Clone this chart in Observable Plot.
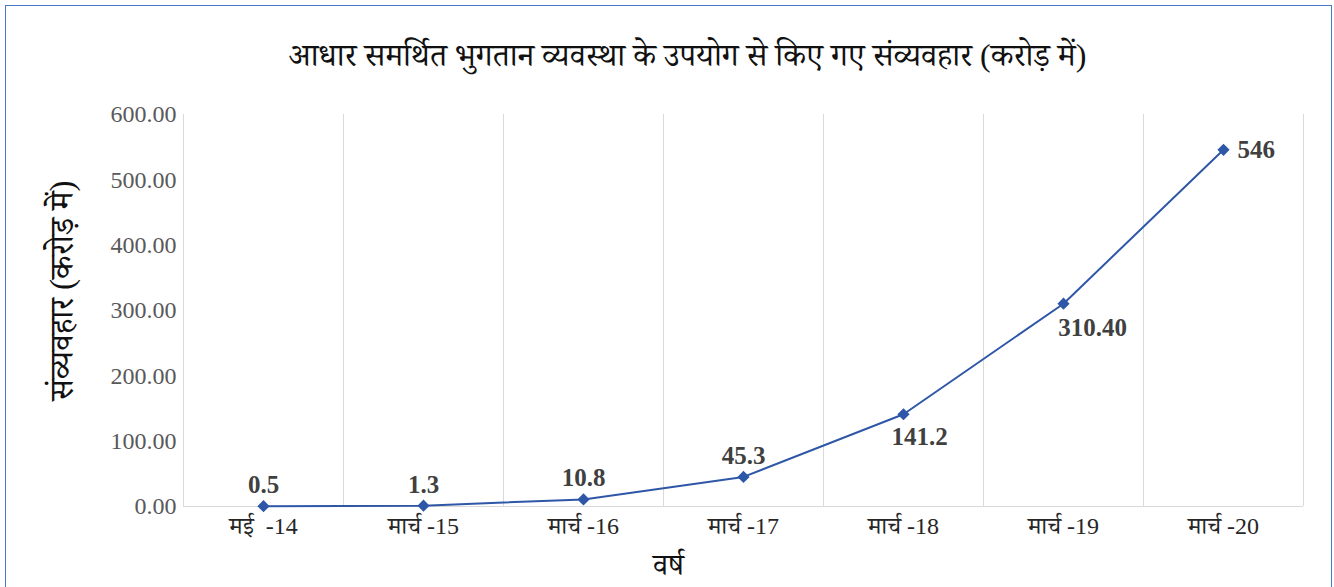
<!DOCTYPE html>
<html><head><meta charset="utf-8">
<script src="https://cdn.jsdelivr.net/npm/d3@7"></script>
<script src="https://cdn.jsdelivr.net/npm/@observablehq/plot@0.6"></script>
<style>
html,body{margin:0;padding:0;background:#fff;}
#wrap{position:relative;width:1334px;height:587px;overflow:hidden;}
#border{position:absolute;left:5px;top:5px;width:1327px;height:620px;border:1.5px solid #4a78c8;box-sizing:border-box;pointer-events:none;}
#chart{position:absolute;left:0;top:0;}
</style></head>
<body><div id="wrap"><div id="chart"></div><div id="border"></div></div>
<script>
const title = "आधार समर्थित भुगतान व्यवस्था के उपयोग से किए गए संव्यवहार (करोड़ में)";
const xTitle = "वर्ष";
const yTitle = "संव्यवहार (करोड़ में)";
const categories = ["मई  -14","मार्च -15","मार्च -16","मार्च -17","मार्च -18","मार्च -19","मार्च -20"];
const values = [0.5, 1.3, 10.8, 45.3, 141.2, 310.4, 546];
const valueLabels = ["0.5","1.3","10.8","45.3","141.2","310.40","546"];
const yTicks = [0,100,200,300,400,500,600];

const data = categories.map((c,i)=>({i, cat:c, v:values[i], lab:valueLabels[i]}));
const bounds = d3.range(categories.length+1).map(i=>i-0.5);

const serif = "'Liberation Serif','Times New Roman','Noto Serif Devanagari','Noto Sans Devanagari',serif";
const blue = "#2f57a8";

const chart = Plot.plot({
  width:1334, height:587,
  marginLeft:183, marginRight:31, marginTop:114, marginBottom:81,
  style:{fontFamily:serif, background:"transparent"},
  x:{type:"linear", domain:[-0.5, categories.length-0.5]},
  y:{domain:[0,600]},
  marks:[
    Plot.ruleX(bounds, {x:d=>d, stroke:"#d9d9d9", strokeWidth:1}),
    Plot.ruleY([0], {stroke:"#d9d9d9", strokeWidth:1.2}),
    Plot.axisY({ticks:yTicks, tickFormat:d=>d.toFixed(2), tickSize:0, tickPadding:7, fontSize:24, fill:"#595959", label:null}),
    Plot.axisX({ticks:d3.range(categories.length), tickFormat:i=>categories[i], tickSize:0, tickPadding:10, fontSize:24, fill:"#262626", label:null}),
    Plot.line(data, {x:"i", y:"v", stroke:blue, strokeWidth:2}),
    Plot.dot(data, {x:"i", y:"v", symbol:"diamond2", r:5.5, fill:blue, stroke:"none"}),
    Plot.text(data.filter(d=>d.i<4), {x:"i", y:"v", text:"lab", dy:-21, fontSize:25, fontWeight:"bold", fill:"#404040"}),
    Plot.text(data.filter(d=>d.i===4), {x:"i", y:"v", text:"lab", dx:16, dy:23, fontSize:25, fontWeight:"bold", fill:"#404040"}),
    Plot.text(data.filter(d=>d.i===5), {x:"i", y:"v", text:"lab", dx:29, dy:24, fontSize:25, fontWeight:"bold", fill:"#404040"}),
    Plot.text(data.filter(d=>d.i===6), {x:"i", y:"v", text:"lab", dx:14, textAnchor:"start", fontSize:25, fontWeight:"bold", fill:"#404040"}),
    Plot.text([title], {frameAnchor:"top", dy:-59, dx:-56, fontSize:32, fill:"#111", lineAnchor:"middle", textAnchor:"middle"}),
    Plot.text([xTitle], {frameAnchor:"bottom", dy:59, dx:-75, fontSize:30, fill:"#111", lineAnchor:"middle", textAnchor:"middle"}),
    Plot.text([yTitle], {frameAnchor:"left", dx:-121, dy:-20, rotate:-90, fontSize:33, fill:"#111", lineAnchor:"middle", textAnchor:"middle"})
  ]
});
document.getElementById("chart").appendChild(chart);
</script></body></html>
